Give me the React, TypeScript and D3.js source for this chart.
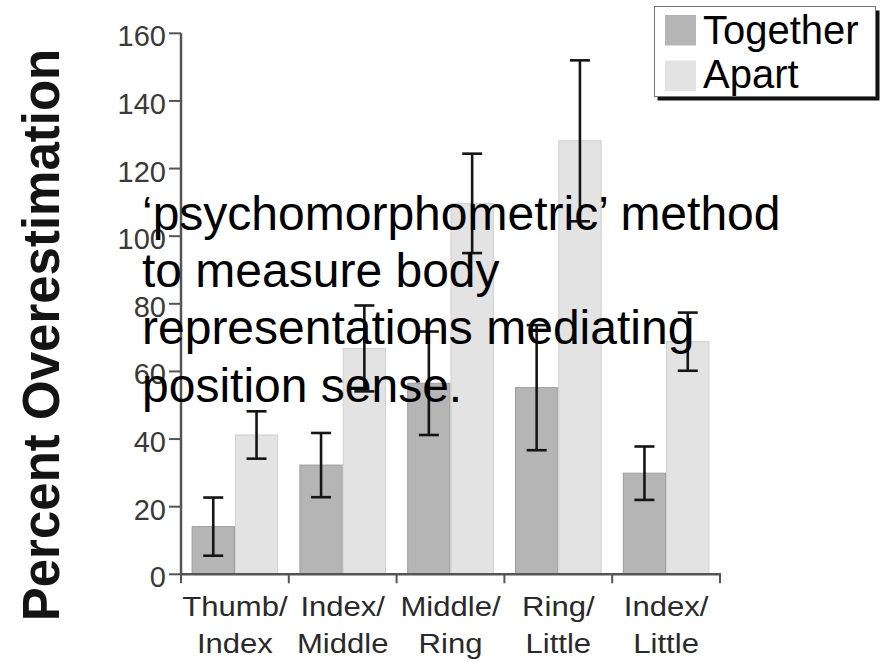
import React from "react";
import * as d3 from "d3";

const categories = ["Thumb/Index", "Index/Middle", "Middle/Ring", "Ring/Little", "Index/Little"];
const labelLine1 = ["Thumb/", "Index/", "Middle/", "Ring/", "Index/"];
const labelLine2 = ["Index", "Middle", "Ring", "Little", "Little"];
const seriesNames = ["Together", "Apart"];
const togetherMeans = [14.1, 32.3, 56.5, 55.2, 29.9];
const togetherErr = [8.6, 9.5, 15.3, 18.5, 7.9];
const apartMeans = [41.2, 66.8, 109.7, 128.2, 68.8];
const apartErr = [7.0, 12.7, 14.7, 23.8, 8.6];
const yTicks = [0, 20, 40, 60, 80, 100, 120, 140, 160];
const overlayLines = [
  "\u2018psychomorphometric\u2019 method",
  "to measure body",
  "representations mediating",
  "position sense.",
];

const W = 886;
const H = 662;
const FONT = "'Liberation Sans', Arial, Helvetica, sans-serif";

export default function App() {
  const x = d3.scaleBand<string>().domain(categories).range([181, 720]).paddingInner(0).paddingOuter(0);
  const xi = d3.scaleBand<string>().domain(seriesNames).range([0, x.step()]).paddingInner(0).paddingOuter(0.245);
  const y = d3.scaleLinear().domain([0, 160]).range([574.3, 33.3]);

  const fills: Record<string, string> = { Together: "#b5b5b5", Apart: "#e3e3e3" };
  const strokes: Record<string, string> = { Together: "#9c9c9c", Apart: "#cfcfcf" };

  const series = [
    { name: "Together", means: togetherMeans, errs: togetherErr },
    { name: "Apart", means: apartMeans, errs: apartErr },
  ];

  const boundaries = [...categories.map((c) => x(c) as number), (x(categories[categories.length - 1]) as number) + x.step()];
  const capW = 20;
  const axisColor = "#555";

  return (
    <svg
      width={W}
      height={H}
      style={{ position: "absolute", left: 0, top: 0, background: "#fff" }}
      fontFamily={FONT}
    >
      <rect x={0} y={0} width={W} height={H} fill="#fff" />

      {/* bars */}
      {series.map((s) =>
        s.means.map((m, i) => {
          const bx = (x(categories[i]) as number) + (xi(s.name) as number);
          return (
            <rect
              key={s.name + i}
              x={bx + 0.5}
              y={y(m)}
              width={xi.bandwidth() - 1}
              height={y(0) - y(m)}
              fill={fills[s.name]}
              stroke={strokes[s.name]}
              strokeWidth={1}
            />
          );
        })
      )}

      {/* error bars */}
      {series.map((s) =>
        s.means.map((m, i) => {
          const cx = (x(categories[i]) as number) + (xi(s.name) as number) + xi.bandwidth() / 2;
          const top = y(m + s.errs[i]);
          const bot = y(m - s.errs[i]);
          return (
            <g key={"e" + s.name + i} stroke="#151515" strokeWidth={2.6}>
              <line x1={cx} x2={cx} y1={top} y2={bot} />
              <line x1={cx - capW / 2} x2={cx + capW / 2} y1={top} y2={top} />
              <line x1={cx - capW / 2} x2={cx + capW / 2} y1={bot} y2={bot} />
            </g>
          );
        })
      )}

      {/* y axis */}
      <line x1={181} x2={181} y1={y(160)} y2={y(0)} stroke={axisColor} strokeWidth={2.5} />
      {yTicks.map((t) => (
        <g key={"yt" + t}>
          <line x1={169} x2={181} y1={y(t)} y2={y(t)} stroke={axisColor} strokeWidth={2} />
          <text x={166} y={y(t) + 13} textAnchor="end" fontSize={29} fill="#3a3a3a">
            {t}
          </text>
        </g>
      ))}

      {/* x axis */}
      <line x1={180} x2={721} y1={y(0)} y2={y(0)} stroke={axisColor} strokeWidth={2.5} />
      {boundaries.map((b, i) => (
        <line key={"xt" + i} x1={b} x2={b} y1={y(0)} y2={y(0) + 9} stroke={axisColor} strokeWidth={2} />
      ))}
      {categories.map((c, i) => {
        const cx = (x(c) as number) + x.step() / 2;
        return (
          <g key={"xl" + c} fill="#2a2a2a" fontSize={27.5} textAnchor="middle" transform={`translate(${cx},0) scale(1.13,1)`}>
            <text x={0} y={616}>{labelLine1[i]}</text>
            <text x={0} y={653}>{labelLine2[i]}</text>
          </g>
        );
      })}

      {/* y title */}
      <text
        transform={`translate(59, ${335}) rotate(-90)`}
        textAnchor="middle"
        fontSize={51}
        fontWeight="bold"
        fill="#141414"
      >
        Percent Overestimation
      </text>

      {/* legend */}
      <rect x={657.5} y={10.5} width={222} height={90} fill="#111" />
      <rect x={654.5} y={6.5} width={221} height={90} fill="#fff" stroke="#777" strokeWidth={1} />
      {seriesNames.map((n, i) => (
        <g key={"lg" + n}>
          <rect x={665} y={15 + i * 45.5} width={31} height={30.5} fill={fills[n]} />
          <text x={703} y={43.5 + i * 44} fontSize={40} fill="#000">
            {n}
          </text>
        </g>
      ))}

      {/* overlay text */}
      {overlayLines.map((l, i) => (
        <text key={"ov" + i} x={142} y={229.5 + i * 57.4} fontSize={48} fill="#000">
          {l}
        </text>
      ))}
    </svg>
  );
}
